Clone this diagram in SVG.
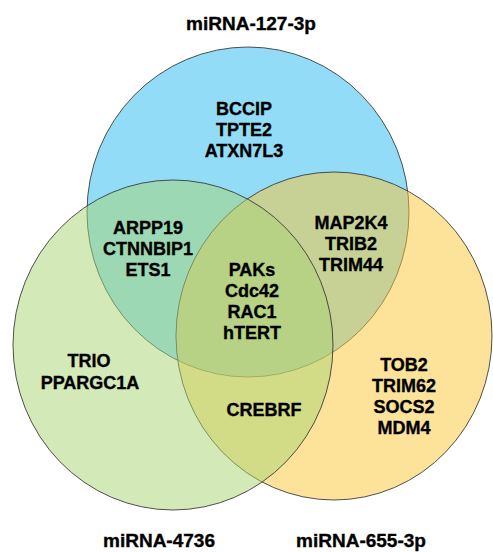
<svg xmlns="http://www.w3.org/2000/svg" width="493" height="552" viewBox="0 0 493 552">
  <style>
    .set { stroke: #333333; stroke-width: 1; stroke-opacity: 0.85; }
    .lbl { font-family: "Liberation Sans", Arial, sans-serif; font-weight: bold; font-size: 18px; fill: #000; stroke: #000; stroke-width: 0.35; text-anchor: middle; }
    .title { font-size: 19px; }
  </style>
  <rect width="493" height="552" fill="#ffffff"/>
  <g id="set-mir127">
    <ellipse class="set" cx="248" cy="212" rx="161" ry="165" fill="#27b9ef" fill-opacity="0.5"/>
  </g>
  <g id="set-mir655">
    <ellipse class="set" cx="334" cy="336" rx="158" ry="164" fill="#fbc535" fill-opacity="0.5"/>
  </g>
  <g id="set-mir4736">
    <ellipse class="set" cx="173" cy="345" rx="160" ry="165" fill="#a7d371" fill-opacity="0.5"/>
  </g>
  <g id="labels">
    <text class="lbl title" x="251" y="30">miRNA-127-3p</text>
    <text class="lbl title" x="159" y="547">miRNA-4736</text>
    <text class="lbl title" x="361" y="547">miRNA-655-3p</text>
  </g>
  <g id="only-127">
    <text class="lbl" x="244" y="115">BCCIP</text>
    <text class="lbl" x="244" y="136">TPTE2</text>
    <text class="lbl" x="244" y="157">ATXN7L3</text>
  </g>
  <g id="127-4736">
    <text class="lbl" x="148" y="234">ARPP19</text>
    <text class="lbl" x="148" y="255">CTNNBIP1</text>
    <text class="lbl" x="148" y="276">ETS1</text>
  </g>
  <g id="127-655">
    <text class="lbl" x="351" y="229">MAP2K4</text>
    <text class="lbl" x="351" y="250">TRIB2</text>
    <text class="lbl" x="351" y="271">TRIM44</text>
  </g>
  <g id="all-three">
    <text class="lbl" x="252" y="276">PAKs</text>
    <text class="lbl" x="252" y="297">Cdc42</text>
    <text class="lbl" x="252" y="318">RAC1</text>
    <text class="lbl" x="252" y="339">hTERT</text>
  </g>
  <g id="only-4736">
    <text class="lbl" x="89" y="367">TRIO</text>
    <text class="lbl" x="90" y="389">PPARGC1A</text>
  </g>
  <g id="4736-655">
    <text class="lbl" x="264" y="416">CREBRF</text>
  </g>
  <g id="only-655">
    <text class="lbl" x="404" y="371">TOB2</text>
    <text class="lbl" x="404" y="392">TRIM62</text>
    <text class="lbl" x="404" y="413">SOCS2</text>
    <text class="lbl" x="404" y="434">MDM4</text>
  </g>
</svg>
